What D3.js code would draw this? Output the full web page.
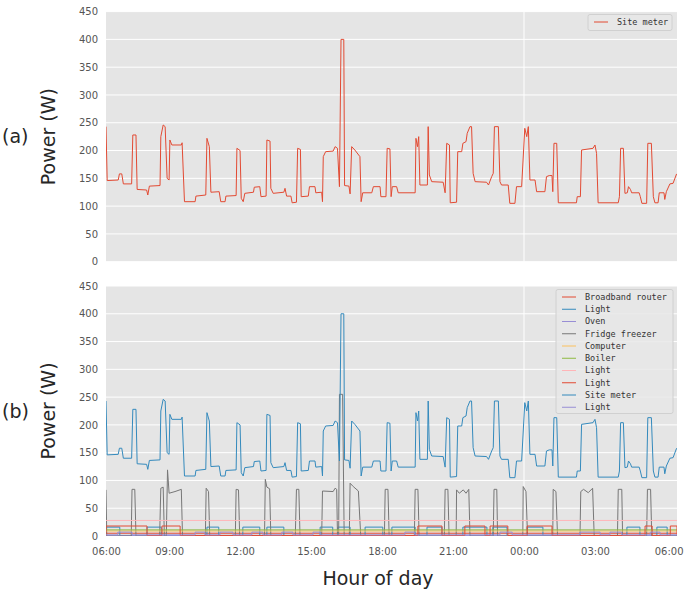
<!DOCTYPE html>
<html>
<head>
<meta charset="utf-8">
<script src="https://cdn.jsdelivr.net/npm/d3@7"></script>
<style>
  body { margin: 0; background: #fff; }
  .tick text { font-family: "DejaVu Sans", sans-serif; font-size: 10px; fill: #555; }
  .legend text { font-family: "DejaVu Sans Mono", monospace; font-size: 8.5px; fill: #333; }
  .label { font-family: "DejaVu Sans", sans-serif; font-size: 19px; fill: #262626; }
</style>
</head>
<body>
<svg id="vis-svg" width="684" height="593"></svg>
<script>

// Times are clock strings, "+" means the next day
var xStart = "06:20";
var xEnd = "+06:28";
var xTicks = ["06:20", "09:00", "12:00", "15:00", "18:00", "21:00", "+00:00", "+03:00", "+06:28"];
var xGrid = ["+00:00"];
var yTicks = [0, 50, 100, 150, 200, 250, 300, 350, 400, 450];

var siteMeter = [
  ["06:20", 243], ["06:23", 146], ["06:51", 147], ["06:54", 158], ["07:00", 158], ["07:04", 140],
  ["07:25", 140], ["07:28", 228], ["07:36", 228], ["07:39", 130], ["08:03", 129], ["08:06", 120],
  ["08:10", 136], ["08:37", 137], ["08:39", 225], ["08:45", 246], ["08:50", 243], ["08:55", 150],
  ["09:00", 147], ["09:02", 219], ["09:07", 210], ["09:31", 210], ["09:33", 214], ["09:39", 108],
  ["10:06", 108], ["10:08", 118], ["10:33", 120], ["10:36", 222], ["10:42", 207], ["10:46", 125],
  ["11:07", 126], ["11:11", 108], ["11:22", 108], ["11:24", 118], ["11:50", 119], ["11:52", 204],
  ["12:00", 200], ["12:03", 114], ["12:08", 108], ["12:12", 123], ["12:34", 125], ["12:36", 134],
  ["12:50", 135], ["12:53", 117], ["13:06", 118], ["13:08", 219], ["13:16", 217], ["13:18", 132],
  ["13:24", 123], ["13:51", 125], ["13:54", 132], ["13:58", 118], ["14:09", 118], ["14:12", 106],
  ["14:23", 107], ["14:26", 204], ["14:33", 202], ["14:35", 117], ["14:53", 118], ["14:56", 135],
  ["15:10", 135], ["15:12", 124], ["15:27", 125], ["15:29", 108], ["15:31", 189], ["15:37", 198],
  ["15:56", 199], ["16:01", 207], ["16:07", 204], ["16:12", 135], ["16:16", 400], ["16:23", 400],
  ["16:25", 137], ["16:36", 136], ["16:39", 122], ["16:43", 207], ["16:51", 201], ["17:04", 189],
  ["17:07", 108], ["17:11", 124], ["17:34", 124], ["17:38", 135], ["17:55", 135], ["17:57", 117],
  ["18:10", 117], ["18:13", 204], ["18:20", 203], ["18:23", 117], ["18:26", 135], ["18:37", 135],
  ["18:41", 124], ["19:24", 124], ["19:26", 222], ["19:30", 207], ["19:33", 225], ["19:36", 138],
  ["19:55", 138], ["19:57", 243], ["20:00", 156], ["20:06", 144], ["20:35", 143], ["20:40", 124],
  ["20:44", 213], ["20:51", 210], ["20:53", 106], ["21:09", 107], ["21:12", 198], ["21:22", 198],
  ["21:25", 213], ["21:33", 216], ["21:36", 231], ["21:43", 243], ["21:47", 243], ["21:51", 159],
  ["21:56", 144], ["22:25", 143], ["22:30", 138], ["22:38", 153], ["22:42", 159], ["22:45", 243],
  ["22:55", 243], ["22:59", 144], ["23:03", 138], ["23:20", 138], ["23:24", 105], ["23:37", 105],
  ["23:41", 135], ["23:54", 135], ["+00:02", 240], ["+00:07", 225], ["+00:11", 243], ["+00:15", 147],
  ["+00:28", 147], ["+00:32", 126], ["+00:53", 126], ["+00:57", 153], ["+01:04", 155], ["+01:11", 155],
  ["+01:13", 126], ["+01:16", 213], ["+01:23", 213], ["+01:27", 106], ["+02:13", 106], ["+02:15", 117],
  ["+02:23", 117], ["+02:26", 201], ["+02:55", 204], ["+03:00", 210], ["+03:04", 195], ["+03:08", 106],
  ["+03:59", 106], ["+04:02", 117], ["+04:05", 204], ["+04:12", 204], ["+04:16", 123], ["+04:22", 124],
  ["+04:25", 135], ["+04:30", 130], ["+04:33", 124], ["+04:52", 124], ["+04:55", 117], ["+04:59", 105],
  ["+05:11", 105], ["+05:14", 213], ["+05:23", 213], ["+05:28", 117], ["+05:32", 106], ["+05:40", 106],
  ["+05:43", 124], ["+05:55", 124], ["+05:57", 112], ["+06:01", 126], ["+06:10", 140], ["+06:18", 141],
  ["+06:27", 158]
];

var fridgeFreezer = [
  ["06:20", 83], ["06:22", 0], ["07:24", 0], ["07:26", 84], ["07:33", 84], ["07:36", 0],
  ["08:36", 0], ["08:39", 86], ["08:45", 88], ["08:48", 0], ["08:53", 0], ["08:56", 119],
  ["09:00", 77], ["09:15", 80], ["09:31", 84], ["09:34", 0], ["10:32", 0], ["10:34", 86],
  ["10:40", 80], ["10:43", 0], ["11:48", 0], ["11:50", 84], ["11:56", 83], ["11:59", 0],
  ["13:02", 0], ["13:04", 102], ["13:08", 88], ["13:15", 85], ["13:18", 0], ["14:20", 0],
  ["14:23", 84], ["14:29", 84], ["14:32", 0], ["15:27", 0], ["15:29", 81], ["15:56", 80],
  ["16:01", 86], ["16:05", 84], ["16:07", 0], ["16:10", 0], ["16:12", 255], ["16:20", 255],
  ["16:24", 0], ["16:37", 0], ["16:39", 95], ["16:47", 89], ["17:00", 81], ["17:06", 0],
  ["18:06", 0], ["18:08", 84], ["18:15", 84], ["18:18", 0], ["19:22", 0], ["19:24", 84],
  ["19:31", 84], ["19:34", 0], ["20:38", 0], ["20:40", 84], ["20:47", 84], ["20:50", 0],
  ["21:08", 0], ["21:09", 83], ["21:16", 77], ["21:26", 83], ["21:33", 77], ["21:40", 84],
  ["21:43", 0], ["22:42", 0], ["22:44", 84], ["22:51", 84], ["22:53", 0], ["23:57", 0],
  ["23:58", 89], ["+00:05", 80], ["+00:09", 0], ["+01:13", 0], ["+01:14", 84], ["+01:21", 80],
  ["+01:25", 0], ["+02:22", 0], ["+02:24", 80], ["+02:31", 84], ["+02:43", 78], ["+02:54", 86],
  ["+02:58", 0], ["+03:57", 0], ["+03:59", 84], ["+04:08", 84], ["+04:10", 0], ["+05:11", 0],
  ["+05:13", 84], ["+05:21", 84], ["+05:24", 0], ["+06:28", 0]
];

var broadbandRouter = [["06:20", 5], ["+06:28", 5]];
var oven = [["06:20", 1], ["+06:28", 1]];
var computer = [["06:20", 9], ["+06:28", 9]];
var boiler = [["06:20", 11], ["+06:28", 11]];
var lightPink = [["06:20", 28], ["+06:28", 28]];

// Lights: periods switched on, and the on / off levels
var lightBlueOn = [
  ["06:20", "06:55"], ["08:04", "08:40"], ["10:36", "11:06"], ["12:07", "12:50"], ["13:08", "13:51"],
  ["15:23", "15:55"], ["16:08", "16:39"], ["17:17", "18:02"], ["18:25", "19:24"], ["19:54", "20:32"],
  ["21:25", "22:26"], ["22:41", "23:17"], ["+00:08", "+00:48"], ["+04:21", "+04:54"], ["+05:37", "+06:03"]
];
var lightRedOn = [
  ["06:20", "08:04"], ["08:42", "09:28"], ["19:31", "20:32"], ["21:30", "22:21"], ["22:34", "23:19"],
  ["+00:08", "+01:11"], ["+05:07", "+05:25"], ["+06:11", "+06:28"]
];
var lightPurpleOn = [
  ["06:50", "07:26"], ["10:06", "10:31"], ["11:09", "11:42"], ["12:30", "12:58"], ["13:46", "14:14"],
  ["15:05", "15:23"], ["18:58", "19:23"], ["22:59", "23:30"], ["+02:22", "+03:13"], ["+03:38", "+04:08"],
  ["+05:20", "+05:45"]
];
var lightLevels = { blue: [1, 16], red: [1, 18], purple: [2, 7] };

var colors = ["#E24A33", "#348ABD", "#988ED5", "#777777", "#FBC15E", "#8EBA42", "#FFB5B8"];

function JD_chart()
{

var parseClock = d3.timeParse("%H:%M");
function toDate(s) {
  var next = s[0] === "+";
  var d = parseClock(next ? s.slice(1) : s);
  return next ? d3.timeDay.offset(d, 1) : d;
}

function toPoints(rows) {
  return rows.map(function(r) { return { time: toDate(r[0]), value: r[1] }; });
}

// on / off periods to a step line
function stepPoints(periods, levels) {
  var pts = [[xStart, levels[0]]];
  periods.forEach(function(p) {
    pts.push([p[0], levels[0]], [p[0], levels[1]], [p[1], levels[1]], [p[1], levels[0]]);
  });
  pts.push([xEnd, levels[0]]);
  return toPoints(pts);
}

var svg = d3.select('#vis-svg');

var left = 106, right = 677;

// X Scale
var xScale = d3.scaleTime()
  .domain([toDate(xStart), toDate(xEnd)])
  .range([left, right]);

function drawPanel(top, bottom, series, legendBox, tag, showX) {

  // Y Scale
  var yScale = d3.scaleLinear().domain([0, 450]).range([bottom, top]);

  var g = svg.append('g');

  g.append('rect')
    .attr('x', left).attr('y', top)
    .attr('width', right - left).attr('height', bottom - top)
    .attr('fill', '#E5E5E5');

  // grid
  g.selectAll('.hgrid').data(yTicks).enter().append('line')
    .attr('x1', left).attr('x2', right)
    .attr('y1', function(d) { return yScale(d); })
    .attr('y2', function(d) { return yScale(d); })
    .attr('stroke', '#fff').attr('stroke-width', 1);
  g.selectAll('.vgrid').data(xGrid).enter().append('line')
    .attr('x1', function(d) { return xScale(toDate(d)); })
    .attr('x2', function(d) { return xScale(toDate(d)); })
    .attr('y1', top).attr('y2', bottom)
    .attr('stroke', '#fff').attr('stroke-width', 1);

  // Y Axis
  var yAxis = g.append('g')
    .attr('transform', 'translate(' + left + ',0)')
    .call(d3.axisLeft(yScale).tickValues(yTicks).tickSize(0).tickPadding(8));
  yAxis.select('.domain').remove();

  // X Axis
  if (showX) {
    var xAxis = g.append('g')
      .attr('transform', 'translate(0,' + bottom + ')')
      .call(d3.axisBottom(xScale)
        .tickValues(xTicks.map(toDate))
        .tickFormat(d3.timeFormat('%H:00'))
        .tickSize(0).tickPadding(12));
    xAxis.select('.domain').remove();
    // keep the last label inside the window
    xAxis.selectAll('.tick:last-of-type text')
      .style('text-anchor', 'end')
      .attr('dx', 6);
  }

  var clipId = 'clip-' + tag;
  g.append('clipPath').attr('id', clipId)
    .append('rect')
    .attr('x', left).attr('y', top)
    .attr('width', right - left).attr('height', bottom - top);

  var lineGen = d3.line()
    .x(function(d) { return xScale(d.time); })
    .y(function(d) { return yScale(d.value); });

  g.append('g').attr('clip-path', 'url(#' + clipId + ')')
    .selectAll('path').data(series).enter().append('path')
    .attr('d', function(s) { return lineGen(s.points); })
    .attr('fill', 'none')
    .attr('stroke', function(s) { return s.color; })
    .attr('stroke-width', 1)
    .attr('stroke-linejoin', 'round');

  // Legend
  var leg = g.append('g').attr('class', 'legend');
  leg.append('rect')
    .attr('x', legendBox.x).attr('y', legendBox.y)
    .attr('width', legendBox.w).attr('height', legendBox.h)
    .attr('rx', 2)
    .attr('fill', '#E8E8E8').attr('fill-opacity', 0.85)
    .attr('stroke', '#d0d0d0').attr('stroke-width', 1);
  var rows = leg.selectAll('.row').data(series).enter().append('g')
    .attr('transform', function(s, i) {
      return 'translate(' + (legendBox.x + 6) + ',' + (legendBox.y + 7.5 + i * 12.25) + ')';
    });
  rows.append('line')
    .attr('x1', 0).attr('x2', 14)
    .attr('stroke', function(s) { return s.color; })
    .attr('stroke-width', 1);
  rows.append('text')
    .attr('x', 23).attr('dy', '0.35em')
    .text(function(s) { return s.name; });

  // Y Axis Label
  svg.append('text')
    .attr('class', 'label')
    .attr('transform', 'translate(55,' + ((top + bottom) / 2) + ') rotate(-90)')
    .style('text-anchor', 'middle')
    .text('Power (W)');

  svg.append('text')
    .attr('class', 'label')
    .attr('x', 2)
    .attr('y', (top + bottom) / 2)
    .attr('dy', '0.35em')
    .text('(' + tag + ')');
}

// Panel (a)
drawPanel(11.6, 261.7,
  [{ name: 'Site meter', color: colors[0], points: toPoints(siteMeter) }],
  { x: 588, y: 14.5, w: 84, h: 16 }, 'a', false);

// Panel (b)
drawPanel(286, 536, [
  { name: 'Broadband router', color: colors[0], points: toPoints(broadbandRouter) },
  { name: 'Light', color: colors[1], points: stepPoints(lightBlueOn, lightLevels.blue) },
  { name: 'Oven', color: colors[2], points: toPoints(oven) },
  { name: 'Fridge freezer', color: colors[3], points: toPoints(fridgeFreezer) },
  { name: 'Computer', color: colors[4], points: toPoints(computer) },
  { name: 'Boiler', color: colors[5], points: toPoints(boiler) },
  { name: 'Light', color: colors[6], points: toPoints(lightPink) },
  { name: 'Light', color: colors[0], points: stepPoints(lightRedOn, lightLevels.red) },
  { name: 'Site meter', color: colors[1], points: toPoints(siteMeter) },
  { name: 'Light', color: colors[2], points: stepPoints(lightPurpleOn, lightLevels.purple) }
], { x: 556, y: 289.5, w: 117, h: 124 }, 'b', true);

// X Axis Label
svg.append('text')
  .attr('class', 'label')
  .attr('x', 378)
  .attr('y', 585)
  .style('text-anchor', 'middle')
  .text('Hour of day');

}

JD_chart()

</script>
</body>
</html>
